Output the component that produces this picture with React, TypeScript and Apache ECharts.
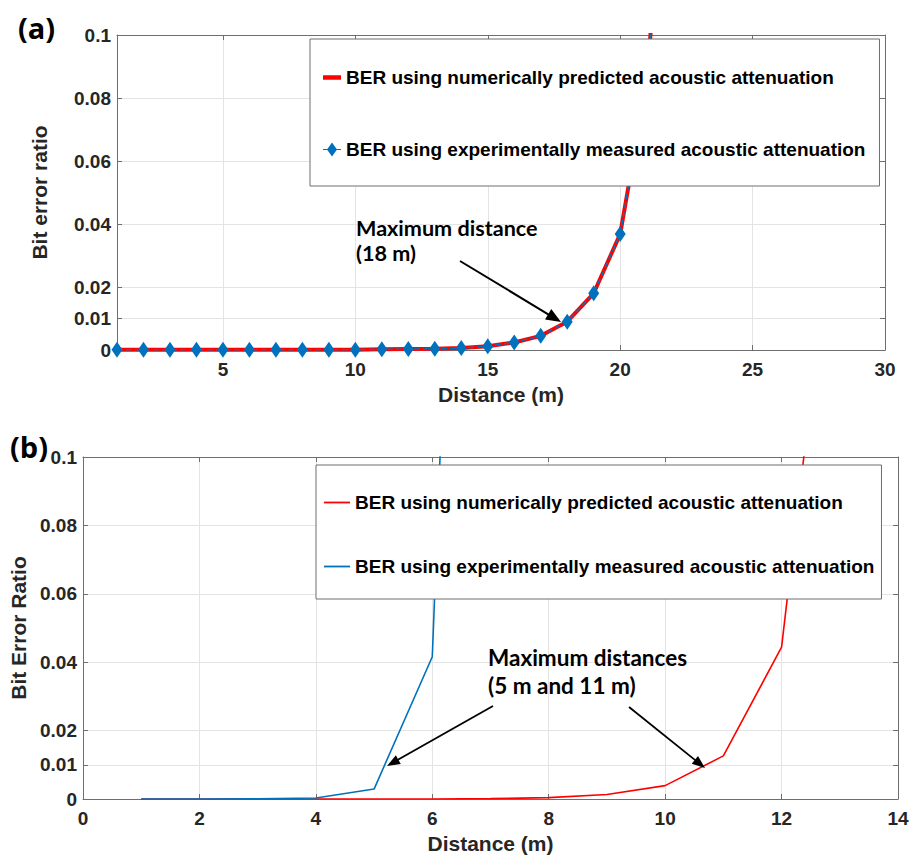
import React, { useEffect, useRef } from "react";
import * as echarts from "echarts";

// ---------- data ----------
const LEGEND_NUM = "BER using numerically predicted acoustic attenuation";
const LEGEND_EXP = "BER using experimentally measured acoustic attenuation";

// panel (a)
const distanceTop = [1, 2, 3, 4, 5, 6, 7, 8, 9, 10, 11, 12, 13, 14, 15, 16, 17, 18, 19, 20, 21, 22];
const berNumericalTop = [0.0001, 0.0001, 0.0001, 0.0001, 0.0001, 0.0001, 0.0001, 0.0001, 0.0001, 0.0001, 0.0002, 0.0003, 0.0004, 0.0006, 0.0012, 0.0024, 0.0045, 0.009, 0.018, 0.0368, 0.085, 0.19];
const berExperimentalTop = [0.0001, 0.0001, 0.0001, 0.0001, 0.0001, 0.0001, 0.0001, 0.0001, 0.0001, 0.0001, 0.0002, 0.0003, 0.0004, 0.0006, 0.0012, 0.0024, 0.0045, 0.009, 0.018, 0.0368, 0.085, 0.19];
const xTicksTop = [5, 10, 15, 20, 25, 30];
const yTicks = [0, 0.01, 0.02, 0.04, 0.06, 0.08, 0.1];

// panel (b)
const distanceBottomNum = [1, 2, 3, 4, 5, 6, 7, 8, 9, 10, 11, 12, 13];
const berNumericalBottom = [0, 0, 0, 0, 0, 0.00002, 0.0001, 0.0004, 0.0013, 0.0039, 0.0126, 0.0444, 0.19];
const distanceBottomExp = [1, 2, 3, 4, 5, 6, 7];
const berExperimentalBottom = [0, 0.00002, 0.00005, 0.0003, 0.0029, 0.0416, 0.48];

// ---------- styles ----------
const AXIS_GRAY = "#6e6e6e";
const GRID_GRAY = "#e4e4e4";
const TXT = "#262626";
const ARIAL = "'Liberation Sans', Arial, sans-serif";
const CAL = "Lato, 'Open Sans', sans-serif";
const RED = "#FF0000";
const BLUE = "#0072BD";

const ICON_RED_THICK = "path://M0,0 H16 V4 H0 Z";
const ICON_DIAMOND = "path://M9,0 L14,7 L9,14 L4,7 Z M0,6.4 H18 V7.6 H0 Z";
const ICON_THIN = "path://M0,0 H26 V1.8 H0 Z";

function fmt(v: number) {
  return String(Math.round(v * 1000) / 1000);
}

function arrow(x1: number, y1: number, x2: number, y2: number, len: number, half: number, w: number) {
  const dx = x2 - x1, dy = y2 - y1;
  const L = Math.hypot(dx, dy);
  const ux = dx / L, uy = dy / L;
  const bx = x2 - ux * len, by = y2 - uy * len;
  return [
    { type: "line", z: 100, shape: { x1, y1, x2: bx + ux * 2, y2: by + uy * 2 }, style: { stroke: "#000", lineWidth: w } },
    {
      type: "polygon", z: 100,
      shape: { points: [[x2, y2], [bx - uy * half, by + ux * half], [bx + uy * half, by - ux * half]] },
      style: { fill: "#000" },
    },
  ];
}

function axes(xmin: number, xmax: number, xTicks: number[] | null, xInterval: number | null, nameGapX: number, nameGapY: number, yName: string, yLabelMargin: number) {
  const tickLabel = { fontFamily: ARIAL, fontWeight: "bold", fontSize: 19, color: TXT };
  const nameStyle = { fontFamily: ARIAL, fontWeight: "bold", fontSize: 21, color: TXT };
  const line = { show: true, onZero: false, lineStyle: { color: AXIS_GRAY, width: 1 } };
  const xBase: any = { type: "value", min: xmin, max: xmax };
  if (xInterval) xBase.interval = xInterval;
  const xTick: any = { show: true, inside: true, length: 5, lineStyle: { color: AXIS_GRAY } };
  const xLab: any = { ...tickLabel, margin: 10 };
  if (xTicks) {
    xTick.customValues = xTicks;
    xLab.customValues = xTicks;
  }
  const yTick = { show: true, inside: true, length: 5, customValues: yTicks, lineStyle: { color: AXIS_GRAY } };
  return {
    xAxis: [
      {
        ...xBase, position: "bottom", axisLine: line, axisTick: xTick, axisLabel: xLab,
        splitLine: { show: true, lineStyle: { color: GRID_GRAY } },
        name: "Distance (m)", nameLocation: "middle", nameGap: nameGapX, nameTextStyle: nameStyle,
      },
      { ...xBase, position: "top", axisLine: line, axisTick: xTick, axisLabel: { show: false }, splitLine: { show: false } },
    ],
    yAxis: [
      {
        type: "value", min: 0, max: 0.1, position: "left", axisLine: line, axisTick: yTick,
        axisLabel: { ...tickLabel, margin: yLabelMargin, customValues: yTicks, formatter: (v: number) => fmt(v) },
        splitLine: { show: true, lineStyle: { color: GRID_GRAY } },
        name: yName, nameLocation: "middle", nameGap: nameGapY, nameRotate: 90, nameTextStyle: nameStyle,
      },
      { type: "value", min: 0, max: 0.1, position: "right", axisLine: line, axisTick: yTick, axisLabel: { show: false }, splitLine: { show: false } },
    ],
  };
}

export default function App() {
  const topRef = useRef<HTMLDivElement>(null);
  const botRef = useRef<HTMLDivElement>(null);

  useEffect(() => {
    const top = echarts.init(topRef.current!, undefined, { renderer: "svg" });
    const bot = echarts.init(botRef.current!, undefined, { renderer: "svg" });

    top.setOption({
      animation: false,
      grid: { left: 117, top: 35, width: 768, height: 317, show: false },
      ...axes(1, 30, xTicksTop, null, 34, 67, "Bit error ratio", 6),
      legend: {
        orient: "vertical", left: 310, top: 39, padding: [29, 14, 27, 13], itemGap: 53,
        itemWidth: 18, itemHeight: 14, backgroundColor: "#fff", borderColor: AXIS_GRAY, borderWidth: 1,
        textStyle: { fontFamily: ARIAL, fontWeight: "bold", fontSize: 19, color: "#000" },
        data: [
          { name: LEGEND_NUM, icon: ICON_RED_THICK, itemStyle: { color: RED } },
          { name: LEGEND_EXP, icon: ICON_DIAMOND, itemStyle: { color: BLUE } },
        ],
        selectedMode: false,
      },
      series: [
        {
          type: "line", name: LEGEND_NUM, data: distanceTop.map((x, i) => [x, berNumericalTop[i]]),
          symbol: "none", lineStyle: { color: RED, width: 4 }, itemStyle: { color: RED }, z: 2,
        },
        {
          type: "line", name: LEGEND_EXP, data: distanceTop.map((x, i) => [x, berExperimentalTop[i]]),
          symbol: "diamond", symbolSize: [11, 16],
          lineStyle: { color: BLUE, width: 1.5, type: "dashed" }, itemStyle: { color: BLUE }, z: 3,
        },
      ],
      graphic: [
        { type: "text", z: 100, x: 18, y: 27, style: { text: "(a)", font: `bold 29px 'Open Sans', sans-serif`, fill: "#000", verticalAlign: "middle" } },
        { type: "text", z: 100, x: 356, y: 228, style: { text: "Maximum distance", font: `bold 21.6px ${CAL}`, fill: "#000", verticalAlign: "middle" } },
        { type: "text", z: 100, x: 356, y: 253, style: { text: "(18 m)", font: `bold 21.6px ${CAL}`, fill: "#000", verticalAlign: "middle" } },
        ...arrow(460, 261, 561, 322, 15, 6, 2),
      ],
    });

    bot.setOption({
      animation: false,
      grid: { left: 83, top: 47, width: 815, height: 344, show: false },
      ...axes(0, 14, null, 2, 34, 45, "Bit Error Ratio", 6),
      legend: {
        orient: "vertical", left: 316, top: 55, padding: [28, 7, 23, 8], itemGap: 45,
        itemWidth: 26, itemHeight: 14, backgroundColor: "#fff", borderColor: AXIS_GRAY, borderWidth: 1,
        textStyle: { fontFamily: ARIAL, fontWeight: "bold", fontSize: 19, color: "#000" },
        data: [
          { name: LEGEND_NUM, icon: ICON_THIN, itemStyle: { color: RED } },
          { name: LEGEND_EXP, icon: ICON_THIN, itemStyle: { color: BLUE } },
        ],
        selectedMode: false,
      },
      series: [
        {
          type: "line", name: LEGEND_NUM, data: distanceBottomNum.map((x, i) => [x, berNumericalBottom[i]]),
          symbol: "none", lineStyle: { color: RED, width: 1.6 }, itemStyle: { color: RED }, z: 2,
        },
        {
          type: "line", name: LEGEND_EXP, data: distanceBottomExp.map((x, i) => [x, berExperimentalBottom[i]]),
          symbol: "none", lineStyle: { color: BLUE, width: 1.6 }, itemStyle: { color: BLUE }, z: 3,
        },
      ],
      graphic: [
        { type: "text", z: 100, x: 10, y: 36, style: { text: "(b)", font: `bold 29px 'Open Sans', sans-serif`, fill: "#000", verticalAlign: "middle" } },
        { type: "text", z: 100, x: 488, y: 247, style: { text: "Maximum distances", font: `bold 22.5px ${CAL}`, fill: "#000", verticalAlign: "middle" } },
        { type: "text", z: 100, x: 488, y: 275, style: { text: "(5 m and 11 m)", font: `bold 22.5px ${CAL}`, fill: "#000", verticalAlign: "middle" } },
        ...arrow(493, 296, 387, 356, 13, 5, 1.8),
        ...arrow(629, 297, 705, 358, 13, 5, 1.8),
      ],
    });

    return () => {
      top.dispose();
      bot.dispose();
    };
  }, []);

  return (
    <div style={{ position: "absolute", left: 0, top: 0, width: 915, height: 859, background: "#fff" }}>
      <div ref={topRef} style={{ position: "absolute", left: 0, top: 0, width: 915, height: 410 }} />
      <div ref={botRef} style={{ position: "absolute", left: 0, top: 410, width: 915, height: 449 }} />
    </div>
  );
}
